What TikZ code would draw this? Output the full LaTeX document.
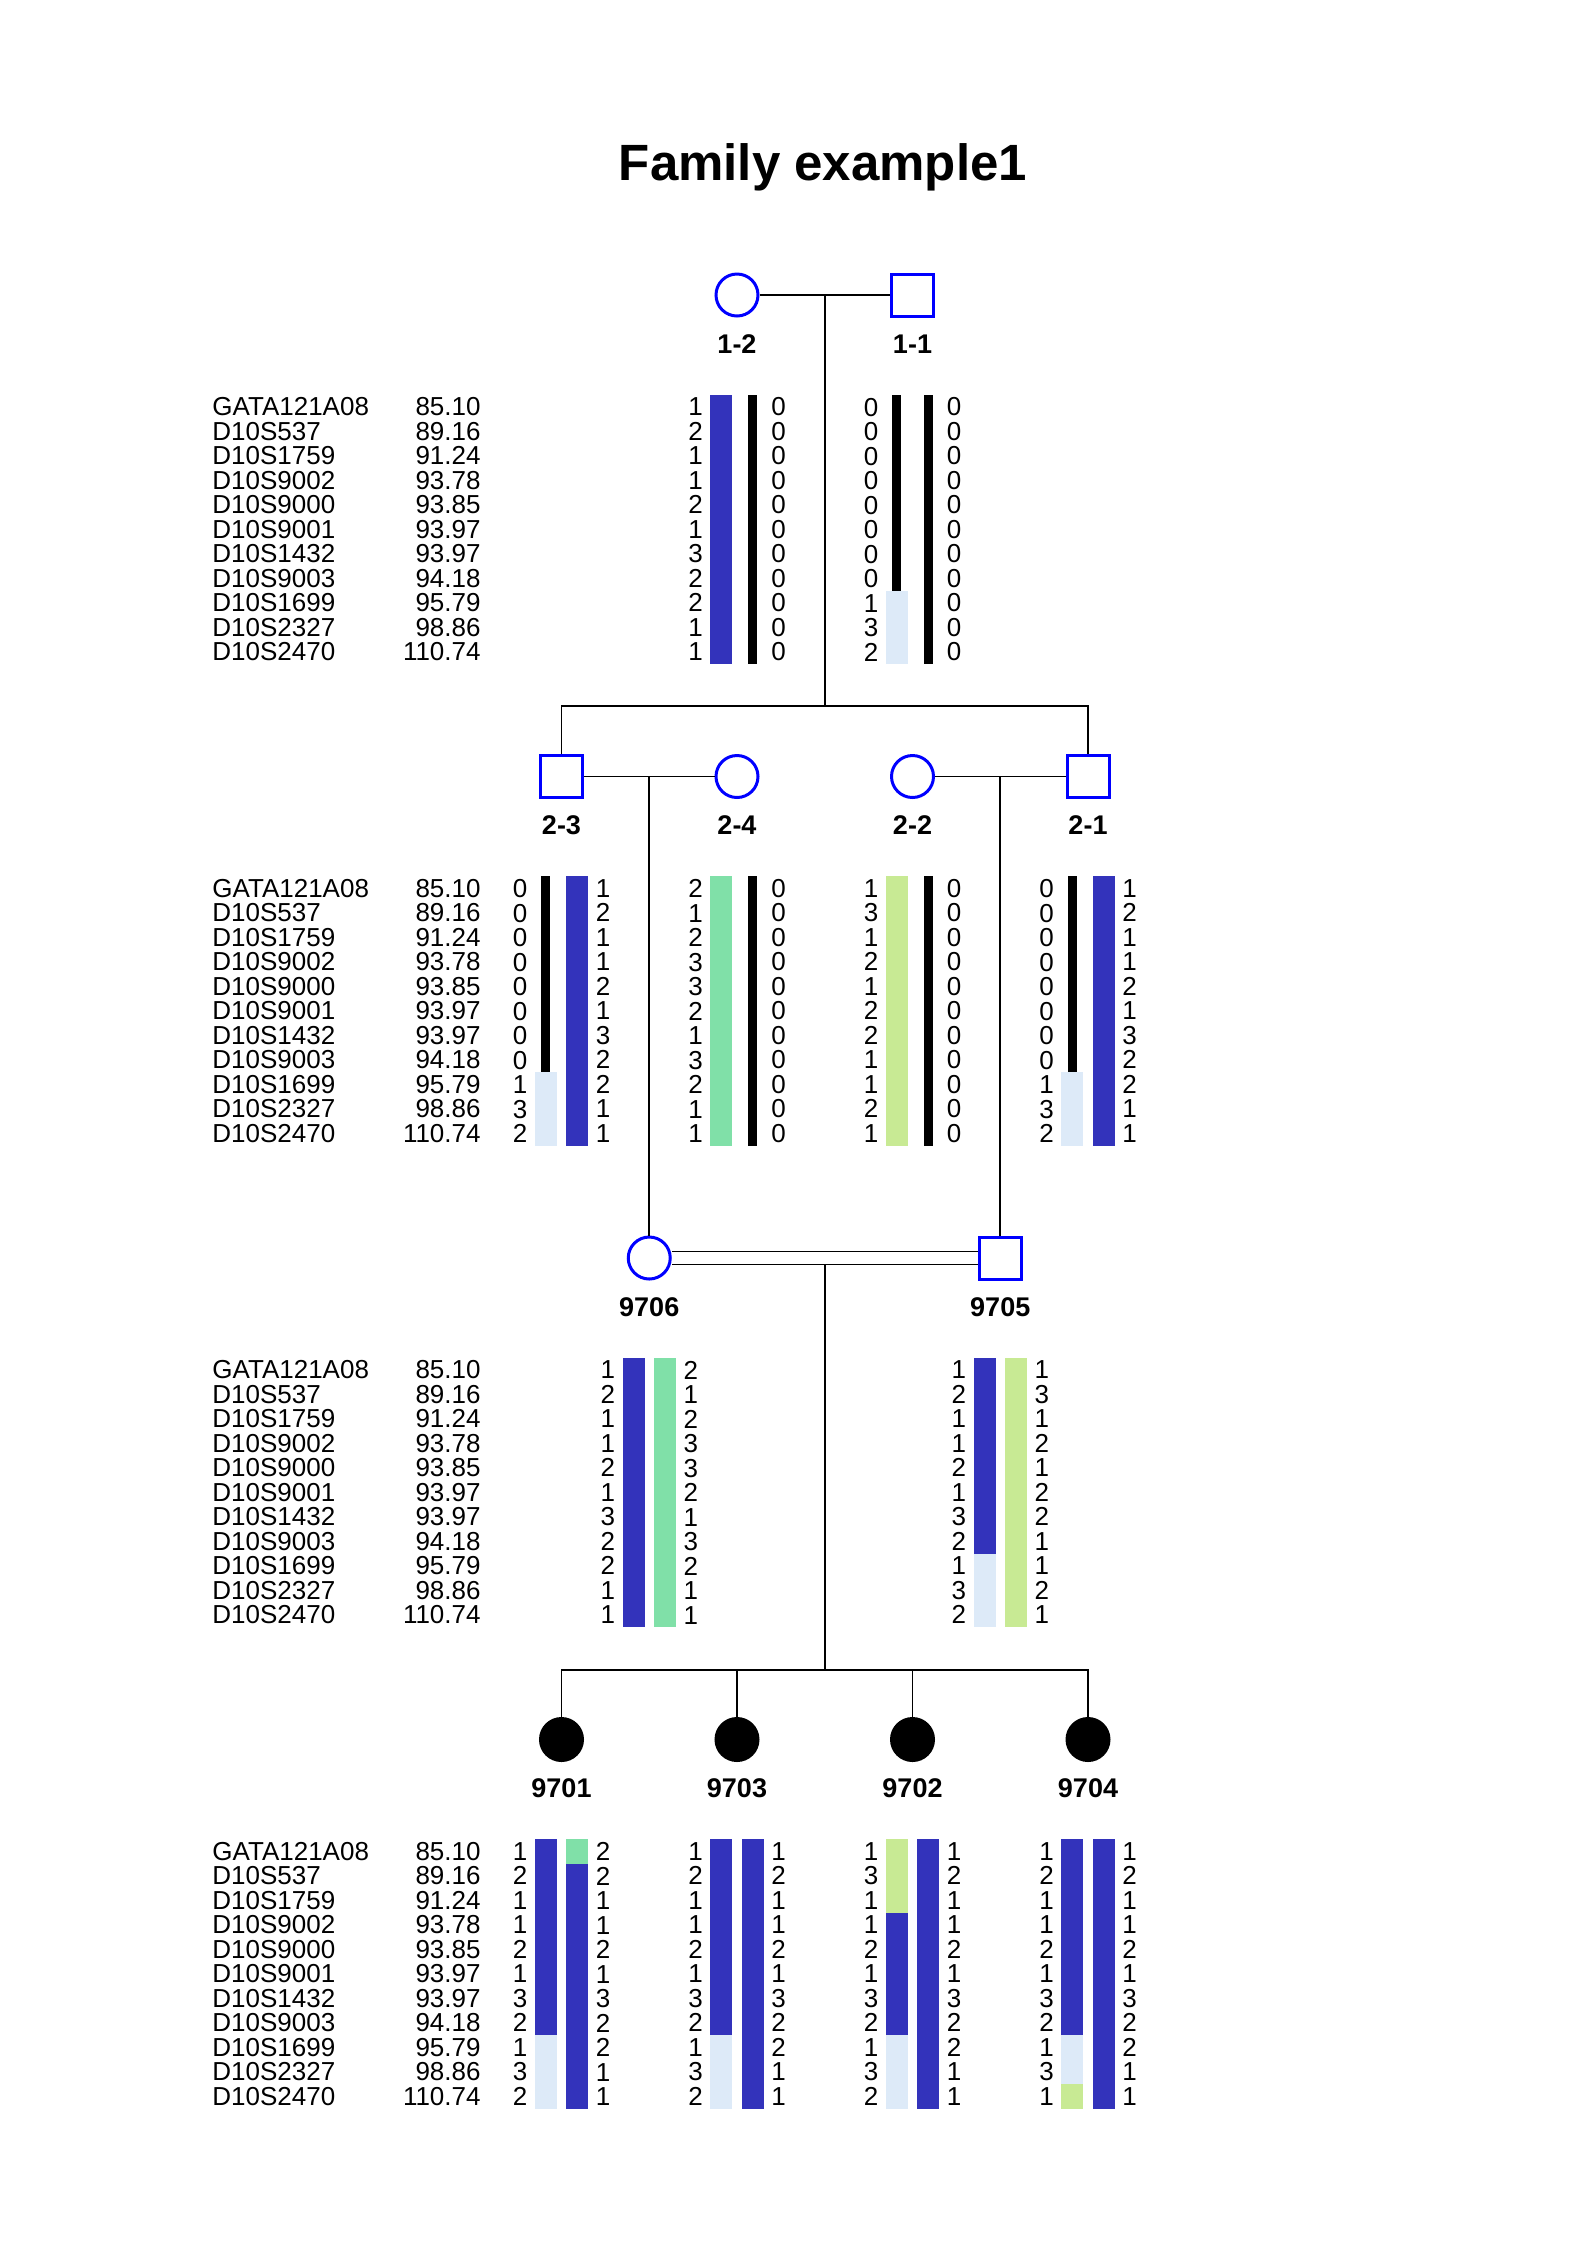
\documentclass[tikz,border=0pt]{standalone}
\usepackage{fontspec}
\setmainfont{Liberation Sans}
\usetikzlibrary{shapes,positioning,calc}
\definecolor{symblue}{RGB}{0,0,255}
\definecolor{hapblue}{RGB}{51,51,187}
\definecolor{hapmint}{RGB}{128,224,168}
\definecolor{haplime}{RGB}{200,234,148}
\definecolor{hapsky}{RGB}{221,234,248}

\begin{document}
\begin{tikzpicture}[x=0.5pt, y=-0.5pt, node distance=87.75pt]
\tikzstyle{female} = [circle, minimum size=21pt, inner sep=0pt, draw=symblue, line width=1.5pt, fill=white]
\tikzstyle{male} = [rectangle, minimum size=21pt, inner sep=0pt, draw=symblue, line width=1.5pt, fill=white]
\tikzstyle{affected} = [circle, minimum size=21pt, inner sep=0pt, draw=black, line width=1.5pt, fill=black]
\tikzstyle{idlabel} = [node distance=24.5pt, inner sep=0pt, font=\bfseries\fontsize{13.5pt}{15pt}\selectfont]
\tikzstyle{column} = [align=center, inner sep=0pt, font=\fontsize{13pt}{12.25pt}\selectfont]
\tikzstyle{bar} = [rectangle, anchor=north, inner sep=0pt, outer sep=0pt, minimum width=11pt, minimum height=134.75pt]
\tikzstyle{thinbar} = [bar, minimum width=4.5pt, fill=black]
\tikzstyle{pedline} = [line width=0.8pt]

\useasboundingbox (0,0) rectangle (1587,2245);

\node (title) [anchor=base, font=\bfseries\fontsize{25.5pt}{30pt}\selectfont] at (823,180) {Family example1};

\node (p12) [female] at (737,295) {};
\node (p11) [male, right of=p12] {};
\node (t12) [idlabel, below of=p12] {1-2};
\node (t11) [idlabel, below of=p11] {1-1};

\node (mk1) [column, align=left, anchor=west] at (212,529.5) {GATA121A08\\D10S537\\D10S1759\\D10S9002\\D10S9000\\D10S9001\\D10S1432\\D10S9003\\D10S1699\\D10S2327\\D10S2470};
\node (cm1) [column, align=right, anchor=east] at (481,529.5) {85.10\\89.16\\91.24\\93.78\\93.85\\93.97\\93.97\\94.18\\95.79\\98.86\\110.74};

\node (a12l) [column] at ($(p12)+(-41.5,234.5)$) {1\\2\\1\\1\\2\\1\\3\\2\\2\\1\\1};
\node (a12r) [column] at ($(p12)+(41.5,234.5)$) {0\\0\\0\\0\\0\\0\\0\\0\\0\\0\\0};
\node (b12l) [bar, fill=hapblue] at ($(p12)+(-15.75,99.75)$) {};
\node (b12r) [thinbar] at ($(p12)+(15.75,99.75)$) {};

\node (a11l) [column] at ($(p11)+(-41.5,234.5)$) {0\\0\\0\\0\\0\\0\\0\\0\\1\\3\\2};
\node (a11r) [column] at ($(p11)+(41.5,234.5)$) {0\\0\\0\\0\\0\\0\\0\\0\\0\\0\\0};
\node (b11l) [thinbar, minimum height=98pt] at ($(p11)+(-15.75,99.75)$) {};
\node (b11m) [bar, fill=hapsky, minimum height=36.75pt] at (b11l.south) {};
\node (b11r) [thinbar] at ($(p11)+(15.75,99.75)$) {};

\node (p23) [male] at (561.5,776.5) {};
\node (p24) [female, right of=p23] {};
\node (p22) [female, right of=p24] {};
\node (p21) [male, right of=p22] {};
\node (t23) [idlabel, below of=p23] {2-3};
\node (t24) [idlabel, below of=p24] {2-4};
\node (t22) [idlabel, below of=p22] {2-2};
\node (t21) [idlabel, below of=p21] {2-1};

\node (mk2) [column, align=left, anchor=west] at (212,1011) {GATA121A08\\D10S537\\D10S1759\\D10S9002\\D10S9000\\D10S9001\\D10S1432\\D10S9003\\D10S1699\\D10S2327\\D10S2470};
\node (cm2) [column, align=right, anchor=east] at (481,1011) {85.10\\89.16\\91.24\\93.78\\93.85\\93.97\\93.97\\94.18\\95.79\\98.86\\110.74};

\node (a23l) [column] at ($(p23)+(-41.5,234.5)$) {0\\0\\0\\0\\0\\0\\0\\0\\1\\3\\2};
\node (a23r) [column] at ($(p23)+(41.5,234.5)$) {1\\2\\1\\1\\2\\1\\3\\2\\2\\1\\1};
\node (b23l) [thinbar, minimum height=98pt] at ($(p23)+(-15.75,99.75)$) {};
\node (b23m) [bar, fill=hapsky, minimum height=36.75pt] at (b23l.south) {};
\node (b23r) [bar, fill=hapblue] at ($(p23)+(15.75,99.75)$) {};

\node (a24l) [column] at ($(p24)+(-41.5,234.5)$) {2\\1\\2\\3\\3\\2\\1\\3\\2\\1\\1};
\node (a24r) [column] at ($(p24)+(41.5,234.5)$) {0\\0\\0\\0\\0\\0\\0\\0\\0\\0\\0};
\node (b24l) [bar, fill=hapmint] at ($(p24)+(-15.75,99.75)$) {};
\node (b24r) [thinbar] at ($(p24)+(15.75,99.75)$) {};

\node (a22l) [column] at ($(p22)+(-41.5,234.5)$) {1\\3\\1\\2\\1\\2\\2\\1\\1\\2\\1};
\node (a22r) [column] at ($(p22)+(41.5,234.5)$) {0\\0\\0\\0\\0\\0\\0\\0\\0\\0\\0};
\node (b22l) [bar, fill=haplime] at ($(p22)+(-15.75,99.75)$) {};
\node (b22r) [thinbar] at ($(p22)+(15.75,99.75)$) {};

\node (a21l) [column] at ($(p21)+(-41.5,234.5)$) {0\\0\\0\\0\\0\\0\\0\\0\\1\\3\\2};
\node (a21r) [column] at ($(p21)+(41.5,234.5)$) {1\\2\\1\\1\\2\\1\\3\\2\\2\\1\\1};
\node (b21l) [thinbar, minimum height=98pt] at ($(p21)+(-15.75,99.75)$) {};
\node (b21m) [bar, fill=hapsky, minimum height=36.75pt] at (b21l.south) {};
\node (b21r) [bar, fill=hapblue] at ($(p21)+(15.75,99.75)$) {};

\coordinate (m2) at ($(p23)!0.5!(p24)$);
\coordinate (m3) at ($(p22)!0.5!(p21)$);
\node (p9706) [female] at ($(m2)+(0,481.5)$) {};
\node (p9705) [male] at ($(m3)+(0,481.5)$) {};
\node (t9706) [idlabel, below of=p9706] {9706};
\node (t9705) [idlabel, below of=p9705] {9705};

\node (mk3) [column, align=left, anchor=west] at (212,1492.5) {GATA121A08\\D10S537\\D10S1759\\D10S9002\\D10S9000\\D10S9001\\D10S1432\\D10S9003\\D10S1699\\D10S2327\\D10S2470};
\node (cm3) [column, align=right, anchor=east] at (481,1492.5) {85.10\\89.16\\91.24\\93.78\\93.85\\93.97\\93.97\\94.18\\95.79\\98.86\\110.74};

\node (a9706l) [column] at ($(p9706)+(-41.5,234.5)$) {1\\2\\1\\1\\2\\1\\3\\2\\2\\1\\1};
\node (a9706r) [column] at ($(p9706)+(41.5,234.5)$) {2\\1\\2\\3\\3\\2\\1\\3\\2\\1\\1};
\node (b9706l) [bar, fill=hapblue] at ($(p9706)+(-15.75,99.75)$) {};
\node (b9706r) [bar, fill=hapmint] at ($(p9706)+(15.75,99.75)$) {};

\node (a9705l) [column] at ($(p9705)+(-41.5,234.5)$) {1\\2\\1\\1\\2\\1\\3\\2\\1\\3\\2};
\node (a9705r) [column] at ($(p9705)+(41.5,234.5)$) {1\\3\\1\\2\\1\\2\\2\\1\\1\\2\\1};
\node (b9705l) [bar, fill=hapblue, minimum height=98pt] at ($(p9705)+(-15.75,99.75)$) {};
\node (b9705m) [bar, fill=hapsky, minimum height=36.75pt] at (b9705l.south) {};
\node (b9705r) [bar, fill=haplime] at ($(p9705)+(15.75,99.75)$) {};

\node (c9701) [affected] at (561.5,1739.5) {};
\node (c9703) [affected, right of=c9701] {};
\node (c9702) [affected, right of=c9703] {};
\node (c9704) [affected, right of=c9702] {};
\node (t9701) [idlabel, below of=c9701] {9701};
\node (t9703) [idlabel, below of=c9703] {9703};
\node (t9702) [idlabel, below of=c9702] {9702};
\node (t9704) [idlabel, below of=c9704] {9704};

\node (mk4) [column, align=left, anchor=west] at (212,1974) {GATA121A08\\D10S537\\D10S1759\\D10S9002\\D10S9000\\D10S9001\\D10S1432\\D10S9003\\D10S1699\\D10S2327\\D10S2470};
\node (cm4) [column, align=right, anchor=east] at (481,1974) {85.10\\89.16\\91.24\\93.78\\93.85\\93.97\\93.97\\94.18\\95.79\\98.86\\110.74};

\node (a9701l) [column] at ($(c9701)+(-41.5,234.5)$) {1\\2\\1\\1\\2\\1\\3\\2\\1\\3\\2};
\node (a9701r) [column] at ($(c9701)+(41.5,234.5)$) {2\\2\\1\\1\\2\\1\\3\\2\\2\\1\\1};
\node (b9701l) [bar, fill=hapblue, minimum height=98pt] at ($(c9701)+(-15.75,99.75)$) {};
\node (b9701m) [bar, fill=hapsky, minimum height=36.75pt] at (b9701l.south) {};
\node (b9701r) [bar, fill=hapmint, minimum height=12.25pt] at ($(c9701)+(15.75,99.75)$) {};
\node (b9701s) [bar, fill=hapblue, minimum height=122.5pt] at (b9701r.south) {};

\node (a9703l) [column] at ($(c9703)+(-41.5,234.5)$) {1\\2\\1\\1\\2\\1\\3\\2\\1\\3\\2};
\node (a9703r) [column] at ($(c9703)+(41.5,234.5)$) {1\\2\\1\\1\\2\\1\\3\\2\\2\\1\\1};
\node (b9703l) [bar, fill=hapblue, minimum height=98pt] at ($(c9703)+(-15.75,99.75)$) {};
\node (b9703m) [bar, fill=hapsky, minimum height=36.75pt] at (b9703l.south) {};
\node (b9703r) [bar, fill=hapblue] at ($(c9703)+(15.75,99.75)$) {};

\node (a9702l) [column] at ($(c9702)+(-41.5,234.5)$) {1\\3\\1\\1\\2\\1\\3\\2\\1\\3\\2};
\node (a9702r) [column] at ($(c9702)+(41.5,234.5)$) {1\\2\\1\\1\\2\\1\\3\\2\\2\\1\\1};
\node (b9702l) [bar, fill=haplime, minimum height=36.75pt] at ($(c9702)+(-15.75,99.75)$) {};
\node (b9702m) [bar, fill=hapblue, minimum height=61.25pt] at (b9702l.south) {};
\node (b9702n) [bar, fill=hapsky, minimum height=36.75pt] at (b9702m.south) {};
\node (b9702r) [bar, fill=hapblue] at ($(c9702)+(15.75,99.75)$) {};

\node (a9704l) [column] at ($(c9704)+(-41.5,234.5)$) {1\\2\\1\\1\\2\\1\\3\\2\\1\\3\\1};
\node (a9704r) [column] at ($(c9704)+(41.5,234.5)$) {1\\2\\1\\1\\2\\1\\3\\2\\2\\1\\1};
\node (b9704l) [bar, fill=hapblue, minimum height=98pt] at ($(c9704)+(-15.75,99.75)$) {};
\node (b9704m) [bar, fill=hapsky, minimum height=24.5pt] at (b9704l.south) {};
\node (b9704n) [bar, fill=haplime, minimum height=12.25pt] at (b9704m.south) {};
\node (b9704r) [bar, fill=hapblue] at ($(c9704)+(15.75,99.75)$) {};

\coordinate (m1) at ($(p12)!0.5!(p11)$);
\coordinate (s1) at ($(m1)+(0,411)$);
\coordinate (m4) at ($(p9706)!0.5!(p9705)+(0,6.5)$);
\coordinate (s2) at ($(m4)+(0,405.5)$);

\draw [pedline] (p12) -- (p11);
\draw [pedline] (m1) -- (s1);
\draw [pedline] (p23.north) |- (s1) -| (p21.north);
\draw [pedline] (p23) -- (p24);
\draw [pedline] (p22) -- (p21);
\draw [pedline] (m2) -- (p9706);
\draw [pedline] (m3) -- (p9705);
\draw [pedline, double, double distance=5.6pt] (p9706) -- (p9705);
\draw [pedline] (m4) -- (s2);
\draw [pedline] (c9701.north) |- (s2) -| (c9704.north);
\draw [pedline] (c9703.north) -- (c9703.north |- s2);
\draw [pedline] (c9702.north) -- (c9702.north |- s2);

\end{tikzpicture}
\end{document}
